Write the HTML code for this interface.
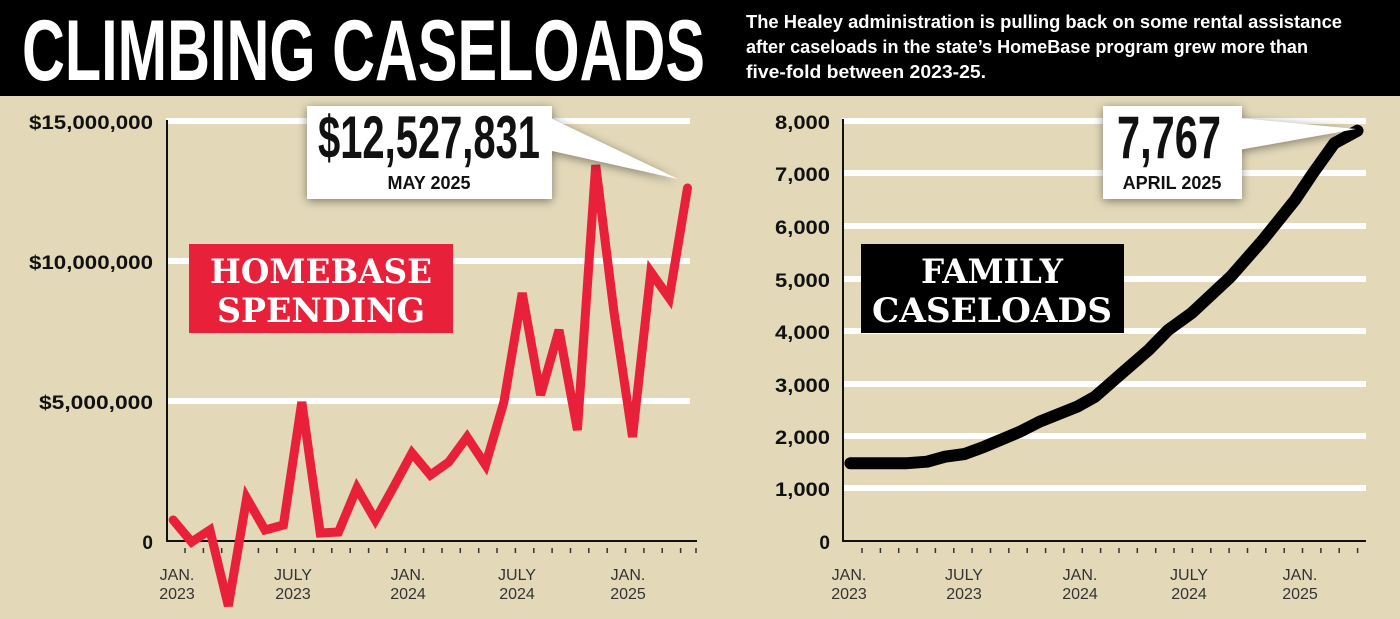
<!DOCTYPE html>
<html><head><meta charset="utf-8"><style>
html,body{margin:0;padding:0;background:#e3d9b9;}
svg{display:block}
</style></head><body>
<svg width="1400" height="619" viewBox="0 0 1400 619" xmlns="http://www.w3.org/2000/svg">
<defs>
<filter id="sh" x="-20%" y="-20%" width="140%" height="150%"><feGaussianBlur in="SourceAlpha" stdDeviation="5"/><feOffset dx="0" dy="2"/><feComponentTransfer><feFuncA type="linear" slope="0.45"/></feComponentTransfer><feMerge><feMergeNode/><feMergeNode in="SourceGraphic"/></feMerge></filter>
</defs>
<rect x="0" y="0" width="1400" height="619" fill="#e3d9b9"/>
<rect x="0" y="0" width="1400" height="96" fill="#000"/>
<text x="22" y="80" font-family="Liberation Sans, sans-serif" font-weight="bold" font-size="86" fill="#fff" textLength="683" lengthAdjust="spacingAndGlyphs">CLIMBING CASELOADS</text>
<g font-family="Liberation Sans, sans-serif" font-weight="bold" font-size="18" fill="#fff">
<text x="746" y="28" textLength="596" lengthAdjust="spacingAndGlyphs">The Healey administration is pulling back on some rental assistance</text>
<text x="746" y="53" textLength="562" lengthAdjust="spacingAndGlyphs">after caseloads in the state’s HomeBase program grew more than</text>
<text x="746" y="78" textLength="240" lengthAdjust="spacingAndGlyphs">five-fold between 2023-25.</text>
</g>

<!-- LEFT CHART -->
<g stroke="#fff" stroke-width="6">
<line x1="166" y1="121" x2="690" y2="121"/>
<line x1="166" y1="261" x2="690" y2="261"/>
<line x1="166" y1="401" x2="690" y2="401"/>
</g>
<line x1="167" y1="120" x2="167" y2="542" stroke="#111" stroke-width="2"/>
<line x1="166" y1="541" x2="697" y2="541" stroke="#111" stroke-width="2"/>
<g font-family="Liberation Sans, sans-serif" font-weight="bold" font-size="19" fill="#111" text-anchor="end">
<text x="153" y="129" textLength="124" lengthAdjust="spacingAndGlyphs">$15,000,000</text>
<text x="153" y="269" textLength="124" lengthAdjust="spacingAndGlyphs">$10,000,000</text>
<text x="153" y="409" textLength="114" lengthAdjust="spacingAndGlyphs">$5,000,000</text>
<text x="153" y="549">0</text>
</g>
<g stroke="#333" stroke-width="1.5">
<line x1="185" y1="548" x2="185" y2="553"/><line x1="203.4" y1="548" x2="203.4" y2="553"/><line x1="221.7" y1="548" x2="221.7" y2="553"/><line x1="240.1" y1="548" x2="240.1" y2="553"/><line x1="258.4" y1="548" x2="258.4" y2="553"/><line x1="276.8" y1="548" x2="276.8" y2="553"/><line x1="295.1" y1="548" x2="295.1" y2="553"/><line x1="313.5" y1="548" x2="313.5" y2="553"/><line x1="331.8" y1="548" x2="331.8" y2="553"/><line x1="350.2" y1="548" x2="350.2" y2="553"/><line x1="368.6" y1="548" x2="368.6" y2="553"/><line x1="386.9" y1="548" x2="386.9" y2="553"/><line x1="405.3" y1="548" x2="405.3" y2="553"/><line x1="423.6" y1="548" x2="423.6" y2="553"/><line x1="442" y1="548" x2="442" y2="553"/><line x1="460.3" y1="548" x2="460.3" y2="553"/><line x1="478.7" y1="548" x2="478.7" y2="553"/><line x1="497" y1="548" x2="497" y2="553"/><line x1="515.4" y1="548" x2="515.4" y2="553"/><line x1="533.8" y1="548" x2="533.8" y2="553"/><line x1="552.1" y1="548" x2="552.1" y2="553"/><line x1="570.5" y1="548" x2="570.5" y2="553"/><line x1="588.8" y1="548" x2="588.8" y2="553"/><line x1="607.2" y1="548" x2="607.2" y2="553"/><line x1="625.5" y1="548" x2="625.5" y2="553"/><line x1="643.9" y1="548" x2="643.9" y2="553"/><line x1="662.2" y1="548" x2="662.2" y2="553"/><line x1="680.6" y1="548" x2="680.6" y2="553"/><line x1="696" y1="548" x2="696" y2="553"/>
</g>
<g font-family="Liberation Sans, sans-serif" font-size="16" fill="#333" text-anchor="middle">
<text x="177" y="580">JAN.</text><text x="177" y="599">2023</text>
<text x="293" y="580">JULY</text><text x="293" y="599">2023</text>
<text x="408" y="580">JAN.</text><text x="408" y="599">2024</text>
<text x="517" y="580">JULY</text><text x="517" y="599">2024</text>
<text x="628" y="580">JAN.</text><text x="628" y="599">2025</text>
</g>
<rect x="189" y="244" width="264" height="89" fill="#e8203a"/>
<g font-family="DejaVu Serif, Liberation Serif, serif" font-weight="bold" font-size="34" fill="#fff" text-anchor="middle">
<text x="321" y="283" textLength="222" lengthAdjust="spacingAndGlyphs">HOMEBASE</text>
<text x="321" y="322" textLength="208" lengthAdjust="spacingAndGlyphs">SPENDING</text>
</g>
<polyline fill="none" stroke="#e8203a" stroke-width="9" stroke-linejoin="miter" stroke-linecap="round" points="173.2,520 191.6,542 209.9,530 228.3,606 246.7,498 265,530 283.4,525 301.8,402 320.2,533 338.5,532 356.9,488 375.3,520 393.6,487 412,453 430.4,475 448.8,462 467.1,437 485.5,465 503.9,402 522.2,293 540.6,395 559,330 577.4,430 595.7,165 614.1,313 632.5,437 650.8,272 669.2,298 687.5,188"/>
<g filter="url(#sh)">
<polygon points="548,117 548,150 678,179" fill="#fff"/>
<rect x="307" y="106" width="245" height="93" fill="#fff"/>
</g>
<text x="429" y="158" text-anchor="middle" font-family="Liberation Sans, sans-serif" font-weight="bold" font-size="60" fill="#111" textLength="222" lengthAdjust="spacingAndGlyphs">$12,527,831</text>
<text x="429" y="189" text-anchor="middle" font-family="Liberation Sans, sans-serif" font-weight="bold" font-size="18" fill="#111">MAY 2025</text>

<!-- RIGHT CHART -->
<g stroke="#fff" stroke-width="6">
<line x1="842" y1="121" x2="1366" y2="121"/>
<line x1="842" y1="173" x2="1366" y2="173"/>
<line x1="842" y1="226" x2="1366" y2="226"/>
<line x1="842" y1="279" x2="1366" y2="279"/>
<line x1="842" y1="331" x2="1366" y2="331"/>
<line x1="842" y1="384" x2="1366" y2="384"/>
<line x1="842" y1="436" x2="1366" y2="436"/>
<line x1="842" y1="488" x2="1366" y2="488"/>
</g>
<line x1="843" y1="119" x2="843" y2="542" stroke="#111" stroke-width="2"/>
<line x1="842" y1="541" x2="1366" y2="541" stroke="#111" stroke-width="2"/>
<g font-family="Liberation Sans, sans-serif" font-weight="bold" font-size="19" fill="#111" text-anchor="end">
<text x="830" y="129" textLength="55" lengthAdjust="spacingAndGlyphs">8,000</text>
<text x="830" y="181" textLength="55" lengthAdjust="spacingAndGlyphs">7,000</text>
<text x="830" y="234" textLength="55" lengthAdjust="spacingAndGlyphs">6,000</text>
<text x="830" y="287" textLength="55" lengthAdjust="spacingAndGlyphs">5,000</text>
<text x="830" y="339" textLength="55" lengthAdjust="spacingAndGlyphs">4,000</text>
<text x="830" y="392" textLength="55" lengthAdjust="spacingAndGlyphs">3,000</text>
<text x="830" y="444" textLength="55" lengthAdjust="spacingAndGlyphs">2,000</text>
<text x="830" y="496" textLength="55" lengthAdjust="spacingAndGlyphs">1,000</text>
<text x="830" y="549">0</text>
</g>
<g stroke="#333" stroke-width="1.5" transform="translate(677,0)">
<line x1="185" y1="548" x2="185" y2="553"/><line x1="203.4" y1="548" x2="203.4" y2="553"/><line x1="221.7" y1="548" x2="221.7" y2="553"/><line x1="240.1" y1="548" x2="240.1" y2="553"/><line x1="258.4" y1="548" x2="258.4" y2="553"/><line x1="276.8" y1="548" x2="276.8" y2="553"/><line x1="295.1" y1="548" x2="295.1" y2="553"/><line x1="313.5" y1="548" x2="313.5" y2="553"/><line x1="331.8" y1="548" x2="331.8" y2="553"/><line x1="350.2" y1="548" x2="350.2" y2="553"/><line x1="368.6" y1="548" x2="368.6" y2="553"/><line x1="386.9" y1="548" x2="386.9" y2="553"/><line x1="405.3" y1="548" x2="405.3" y2="553"/><line x1="423.6" y1="548" x2="423.6" y2="553"/><line x1="442" y1="548" x2="442" y2="553"/><line x1="460.3" y1="548" x2="460.3" y2="553"/><line x1="478.7" y1="548" x2="478.7" y2="553"/><line x1="497" y1="548" x2="497" y2="553"/><line x1="515.4" y1="548" x2="515.4" y2="553"/><line x1="533.8" y1="548" x2="533.8" y2="553"/><line x1="552.1" y1="548" x2="552.1" y2="553"/><line x1="570.5" y1="548" x2="570.5" y2="553"/><line x1="588.8" y1="548" x2="588.8" y2="553"/><line x1="607.2" y1="548" x2="607.2" y2="553"/><line x1="625.5" y1="548" x2="625.5" y2="553"/><line x1="643.9" y1="548" x2="643.9" y2="553"/><line x1="662.2" y1="548" x2="662.2" y2="553"/><line x1="680.6" y1="548" x2="680.6" y2="553"/>
</g>
<g font-family="Liberation Sans, sans-serif" font-size="16" fill="#333" text-anchor="middle">
<text x="849" y="580">JAN.</text><text x="849" y="599">2023</text>
<text x="964" y="580">JULY</text><text x="964" y="599">2023</text>
<text x="1080" y="580">JAN.</text><text x="1080" y="599">2024</text>
<text x="1189" y="580">JULY</text><text x="1189" y="599">2024</text>
<text x="1300" y="580">JAN.</text><text x="1300" y="599">2025</text>
</g>
<rect x="861" y="244" width="263" height="89" fill="#000"/>
<g font-family="DejaVu Serif, Liberation Serif, serif" font-weight="bold" font-size="34" fill="#fff" text-anchor="middle">
<text x="992" y="283" textLength="142" lengthAdjust="spacingAndGlyphs">FAMILY</text>
<text x="992" y="322" textLength="240" lengthAdjust="spacingAndGlyphs">CASELOADS</text>
</g>
<polyline fill="none" stroke="#000" stroke-width="12" stroke-linejoin="round" stroke-linecap="round" points="850.4,463.3 905.7,463.3 927.1,461.7 945,456.7 964.6,454 984.3,446.7 1020,431.7 1039.6,421.7 1077.1,406.7 1095,396.7 1123.6,371.7 1148.6,350 1168.2,330 1191.4,313.3 1230.7,276.7 1262.9,240 1295,200 1312.9,173.3 1334.3,143.3 1357.5,130.7"/>
<g filter="url(#sh)">
<polygon points="1238,118 1238,150 1356,129" fill="#fff"/>
<rect x="1103" y="106" width="139" height="93" fill="#fff"/>
</g>
<text x="1169" y="158" text-anchor="middle" font-family="Liberation Sans, sans-serif" font-weight="bold" font-size="60" fill="#111" textLength="104" lengthAdjust="spacingAndGlyphs">7,767</text>
<text x="1172" y="189" text-anchor="middle" font-family="Liberation Sans, sans-serif" font-weight="bold" font-size="18" fill="#111">APRIL 2025</text>
</svg>
</body></html>
